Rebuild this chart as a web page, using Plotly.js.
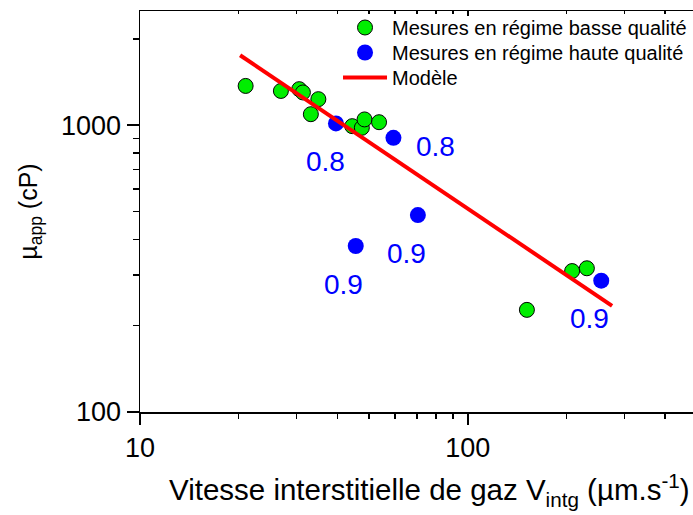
<!DOCTYPE html>
<html>
<head>
<meta charset="utf-8">
<script src="https://cdn.plot.ly/plotly-3.0.1.min.js"></script>
<style>
html, body { margin: 0; padding: 0; overflow: hidden; background: #fff; }
#chart { width: 720px; height: 515px; }
</style>
</head>
<body>
<div id="chart"></div>
<script>
// Low-quality regime measurements (green)
const xLow = [21.0, 26.9, 30.6, 31.4, 35.0, 33.2, 44.4, 47.5, 48.4, 53.6, 151.4, 208, 230.7];
const yLow = [1370, 1316, 1335, 1300, 1232, 1092, 992, 979, 1047, 1024, 227, 310, 317];
// High-quality regime measurements (blue)
const xHigh = [39.6, 59.3, 45.5, 70.4, 255.2];
const yHigh = [1014, 903, 379, 486, 287];
// Model line
const xModel = [20.2, 275.4];
const yModel = [1753, 234.5];
// Quality labels
const labelX = [36.7, 79.5, 41.7, 64.8, 234.5];
const labelY = [745, 845, 279, 357.6, 212.4];
const labelText = ['0.8', '0.8', '0.9', '0.9', '0.9'];
// Ticks
const xMajor = [10, 100];
const xMajorText = ['10', '100'];
const xMinor = [20, 30, 40, 50, 60, 70, 80, 90, 200, 300, 400];
const yMajor = [100, 1000];
const yMajorText = ['100', '1000'];
const yMinor = [200, 300, 400, 500, 600, 700, 800, 900, 2000];

const FONT = 'Arial, "Liberation Sans", sans-serif';

const traces = [
  {
    x: xHigh, y: yHigh, type: 'scatter', mode: 'markers',
    name: 'Mesures en régime haute qualité', legend: 'legend2',
    marker: { color: '#0000ff', size: 16, line: { width: 0 } },
    hoverinfo: 'x+y'
  },
  {
    x: xLow, y: yLow, type: 'scatter', mode: 'markers',
    name: 'Mesures en régime basse qualité', legend: 'legend',
    marker: { color: '#00ee00', size: 15, line: { color: '#000', width: 1 } },
    hoverinfo: 'x+y'
  },
  {
    x: xModel, y: yModel, type: 'scatter', mode: 'lines',
    name: 'Modèle', legend: 'legend3',
    line: { color: '#ff0000', width: 4 },
    hoverinfo: 'x+y'
  },
  {
    x: [], y: [], xaxis: 'x2', yaxis: 'y', type: 'scatter', mode: 'markers',
    showlegend: false, hoverinfo: 'skip'
  }
];

const annotations = labelText.map((t, i) => ({
  x: Math.log10(labelX[i]), y: Math.log10(labelY[i]),
  xref: 'x', yref: 'y', text: t, showarrow: false,
  font: { family: FONT, size: 28, color: '#0000ff' },
  xanchor: 'center', yanchor: 'middle'
}));
// x-axis title (placed as in the reference, slightly right of the plot centre)
annotations.push({
  xref: 'paper', yref: 'paper', x: 0.519, y: -0.1945,
  xanchor: 'center', yanchor: 'middle', showarrow: false,
  text: 'Vitesse interstitielle de gaz V<sub>intg</sub> (µm.s<sup>-1</sup>)',
  font: { family: FONT, size: 29.5, color: '#000' }
});

function legendAt(yFrac) {
  return {
    x: 0.3555, xref: 'paper', y: yFrac, yref: 'paper', yanchor: 'top', xanchor: 'left',
    font: { family: FONT, size: 20, color: '#000' },
    bgcolor: 'rgba(0,0,0,0)', borderwidth: 0,
    itemwidth: 44, tracegroupgap: 0
  };
}

const layout = {
  width: 720, height: 515,
  margin: { l: 140, r: 23, t: 11, b: 103, autoexpand: false },
  paper_bgcolor: '#fff', plot_bgcolor: '#fff',
  font: { family: FONT, color: '#000' },
  showlegend: true,
  legend: legendAt(1.0075),
  legend2: legendAt(0.9451),
  legend3: legendAt(0.8828),
  xaxis: {
    type: 'log', range: [1, Math.log10(500)],
    tickmode: 'array', tickvals: xMajor, ticktext: xMajorText,
    ticks: 'outside', ticklen: 11, tickwidth: 1.5, tickcolor: '#000',
    showline: true, linewidth: 1.5, linecolor: '#000', mirror: true,
    showgrid: false, zeroline: false,
    tickfont: { family: FONT, size: 27, color: '#000' },
    minor: { tickmode: 'array', tickvals: xMinor, ticks: 'outside', ticklen: 5, tickwidth: 1.5, tickcolor: '#000', showgrid: false }
  },
  xaxis2: {
    type: 'log', range: [1, Math.log10(500)], overlaying: 'x', side: 'top', anchor: 'y',
    tickmode: 'array', tickvals: xMajor, showticklabels: false,
    ticks: 'inside', ticklen: 5, tickwidth: 1.5, tickcolor: '#000',
    showline: false, showgrid: false, zeroline: false,
    minor: { tickmode: 'array', tickvals: xMinor, ticks: 'inside', ticklen: 3, tickwidth: 1.5, tickcolor: '#000', showgrid: false }
  },
  yaxis: {
    type: 'log', range: [2, Math.log10(2500)],
    tickmode: 'array', tickvals: yMajor, ticktext: yMajorText,
    ticks: 'outside', ticklen: 12, tickwidth: 1.5, tickcolor: '#000',
    showline: true, linewidth: 1.5, linecolor: '#000', mirror: true,
    showgrid: false, zeroline: false,
    tickfont: { family: FONT, size: 27, color: '#000' },
    minor: { tickmode: 'array', tickvals: yMinor, ticks: 'outside', ticklen: 6, tickwidth: 1.5, tickcolor: '#000', showgrid: false },
    title: {
      text: 'µ<sub>app</sub> (cP)',
      font: { family: FONT, size: 25, color: '#000' }, standoff: 16
    }
  },
  annotations: annotations
};

Plotly.newPlot('chart', traces, layout, { displayModeBar: false, staticPlot: true });
</script>
</body>
</html>
